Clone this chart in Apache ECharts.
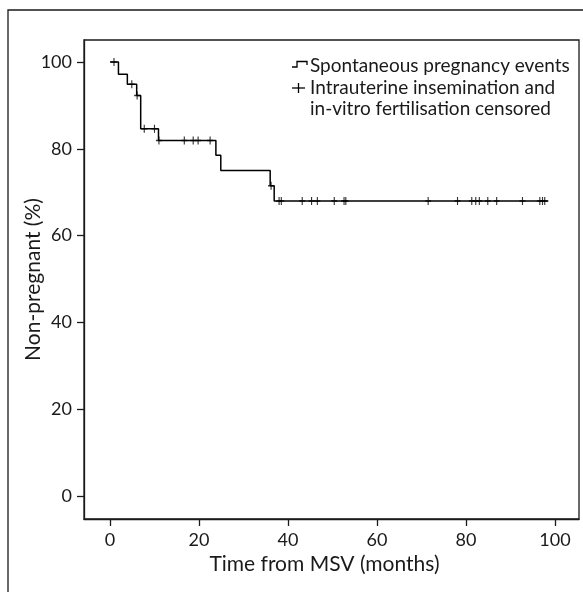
<!DOCTYPE html>
<html>
<head>
<meta charset="utf-8">
<script src="https://cdn.jsdelivr.net/npm/echarts@6/dist/echarts.min.js"></script>
<style>
html, body { margin: 0; padding: 0; background: #fff; }
#chart { width: 583px; height: 592px; }
</style>
</head>
<body>
<div id="chart"></div>
<script>
// Kaplan-Meier step curve (months, % non-pregnant)
var stepTimes  = [0, 1.9, 3.9, 6.0, 6.9, 10.9, 23.8, 24.9, 36.0, 36.9, 98.5];
var stepValues = [100, 97.2, 94.9, 92.3, 84.6, 81.9, 78.5, 75.0, 71.5, 68.0, 68.0];

// censored observations (IUI / IVF)
var censorTimes  = [0.9, 4.9, 6.1, 7.7, 10.0, 11.0, 16.7, 18.7, 19.8, 22.5, 36.2,
                    38.0, 38.5, 43.2, 45.3, 46.6, 50.4, 52.6, 53.0, 71.5, 78.1,
                    81.3, 82.2, 83.0, 84.9, 86.9, 92.7, 96.6, 97.2, 97.7];
var censorValues = [100, 94.9, 92.3, 84.6, 84.6, 81.9, 81.9, 81.9, 81.9, 81.9, 71.5,
                    68.0, 68.0, 68.0, 68.0, 68.0, 68.0, 68.0, 68.0, 68.0, 68.0,
                    68.0, 68.0, 68.0, 68.0, 68.0, 68.0, 68.0, 68.0, 68.0];

var xTicks = [0, 20, 40, 60, 80, 100];
var yTicks = [0, 20, 40, 60, 80, 100];

var legendNames = ['Spontaneous pregnancy events',
                   'Intrauterine insemination and\nin-vitro fertilisation censored'];

var FONT = 'Lato';
var TITLE_SIZE = 21;
var LEGEND_SIZE = 19;
var INK = '#1a1a1a';

function pairs(xs, ys) {
    var out = [];
    for (var i = 0; i < xs.length; i++) out.push([xs[i], ys[i]]);
    return out;
}

var chart = echarts.init(document.getElementById('chart'));
var option = {
    animation: false,
    backgroundColor: '#fff',
    textStyle: { fontFamily: FONT, color: INK },
    grid: {
        left: 84, top: 40, right: 4, bottom: 73,
        show: true, borderColor: INK, borderWidth: 1.3,
        backgroundColor: 'transparent',
        containLabel: false, outerBoundsMode: 'none'
    },
    xAxis: {
        type: 'value', min: -5.84, max: 105.4,
        name: 'Time from MSV (months)', nameLocation: 'middle', nameGap: 35,
        nameTextStyle: { fontSize: TITLE_SIZE, color: INK, fontFamily: FONT, padding: [0, 14, 0, 0] },
        axisLine: { onZero: false, lineStyle: { color: INK, width: 1.3 } },
        axisTick: { customValues: xTicks, length: 7, lineStyle: { color: INK, width: 1.3 } },
        axisLabel: { customValues: xTicks, margin: 12, fontSize: 18, color: INK, fontFamily: FONT },
        splitLine: { show: false }
    },
    yAxis: [
        {
            type: 'value', min: -5.3, max: 105.07,
            axisLine: { onZero: false, lineStyle: { color: INK, width: 1.3 } },
            axisTick: { customValues: yTicks, length: 7, lineStyle: { color: INK, width: 1.3 } },
            axisLabel: { customValues: yTicks, margin: 12, fontSize: 18, color: INK, fontFamily: FONT },
            splitLine: { show: false }
        },
        {
            // carries the axis title only, so it can sit close to the tick labels
            type: 'value', min: -5.3, max: 105.07, position: 'left',
            name: 'Non-pregnant (%)', nameLocation: 'middle', nameGap: 40,
            nameTextStyle: { fontSize: TITLE_SIZE, color: INK, fontFamily: FONT },
            axisLine: { show: false, onZero: false },
            axisTick: { show: false },
            axisLabel: { show: false },
            splitLine: { show: false }
        }
    ],
    series: [
        {
            name: legendNames[0], type: 'line', step: 'end',
            data: pairs(stepTimes, stepValues),
            showSymbol: false, symbol: 'none',
            lineStyle: { color: '#000', width: 1.5 }
        },
        {
            name: legendNames[1], type: 'scatter',
            data: pairs(censorTimes, censorValues),
            symbol: 'path://M5,0 L5,10 M0,5 L10,5', symbolSize: [6, 8],
            itemStyle: { color: 'none', borderColor: '#000', borderWidth: 1.3 }
        }
    ],
    graphic: [
        // outer figure frame
        { type: 'rect', shape: { x: 8, y: 10, width: 620, height: 620 },
          style: { fill: 'none', stroke: INK, lineWidth: 1.3 }, silent: true },
        // legend
        { type: 'polyline', shape: { points: [[292, 67], [297, 67], [297, 61.5], [307, 61.5], [307, 65]] },
          style: { fill: 'none', stroke: '#000', lineWidth: 1.3 } },
        { type: 'text', x: 310, y: 66,
          style: { text: legendNames[0], font: LEGEND_SIZE + 'px ' + FONT, fill: INK, verticalAlign: 'middle' } },
        { type: 'polyline', shape: { points: [[292, 88], [305, 88]] },
          style: { fill: 'none', stroke: '#000', lineWidth: 1.3 } },
        { type: 'polyline', shape: { points: [[298.5, 83], [298.5, 93]] },
          style: { fill: 'none', stroke: '#000', lineWidth: 1.3 } },
        { type: 'text', x: 310, y: 78,
          style: { text: legendNames[1], font: LEGEND_SIZE + 'px ' + FONT, fill: INK, verticalAlign: 'top',
                   lineHeight: 20.5 } }
    ]
};
chart.setOption(option);
window.onresize = chart.resize;
</script>
</body>
</html>
